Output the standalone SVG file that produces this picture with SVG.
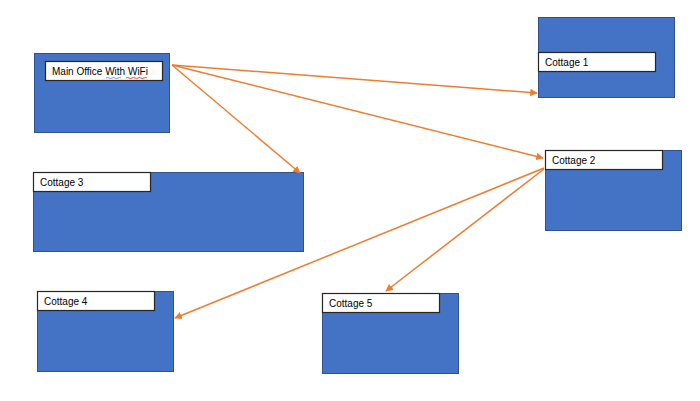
<svg xmlns="http://www.w3.org/2000/svg" width="700" height="401" viewBox="0 0 700 401">
  <style>
    .site { fill: #4472C4; stroke: #2F528F; stroke-width: 1; }
    .tag { fill: #FFFFFF; stroke: #262626; stroke-width: 1.2; }
    .txt { font-family: "Liberation Sans", "Open Sans", sans-serif; font-size: 10px; fill: #000000; }
    .link { stroke: #ED7D31; stroke-width: 1.5; fill: none; marker-end: url(#head); }
  </style>
  <defs>
    <marker id="head" viewBox="0 0 10 10" refX="9" refY="5" markerWidth="5" markerHeight="5" orient="auto" markerUnits="strokeWidth">
      <path d="M0,0 L10,5 L0,10 z" fill="#ED7D31"/>
    </marker>
  </defs>
  <rect width="700" height="401" fill="#FFFFFF"/>

  <g id="main-office">
    <rect class="site" x="34.5" y="53.5" width="135" height="79"/>
    <rect class="tag" x="45.5" y="61.5" width="117" height="19"/>
    <text class="txt" x="52" y="75">Main Office With WiFi</text>
    <!-- proofing squiggles under "With" and "WiFi" -->
    <path d="M106,78 q1.5,-1 3,0 t3,0 t3,0 t3,0 t3,0" stroke="#4472C4" stroke-width="0.7" fill="none"/>
    <path d="M126,78 q1.5,-1 3,0 t3,0 t3,0 t3,0 t3,0 t3,0 t3,0" stroke="#E00000" stroke-width="0.7" fill="none"/>
  </g>

  <g id="cottage-1">
    <rect class="site" x="538.5" y="17.5" width="136" height="80"/>
    <rect class="tag" x="538.5" y="52.5" width="117" height="19"/>
    <text class="txt" x="545" y="66">Cottage 1</text>
  </g>

  <g id="cottage-2">
    <rect class="site" x="545.5" y="150.5" width="136" height="80"/>
    <rect class="tag" x="545.5" y="150.5" width="117" height="19"/>
    <text class="txt" x="552" y="164">Cottage 2</text>
  </g>

  <g id="cottage-3">
    <rect class="site" x="33.5" y="172.5" width="270" height="79"/>
    <rect class="tag" x="33.5" y="172.5" width="117" height="19"/>
    <text class="txt" x="40" y="186">Cottage 3</text>
  </g>

  <g id="cottage-4">
    <rect class="site" x="37.5" y="291.5" width="136" height="80"/>
    <rect class="tag" x="37.5" y="291.5" width="117" height="19"/>
    <text class="txt" x="44" y="305">Cottage 4</text>
  </g>

  <g id="cottage-5">
    <rect class="site" x="322.5" y="293.5" width="136" height="80"/>
    <rect class="tag" x="322.5" y="293.5" width="117" height="19"/>
    <text class="txt" x="329" y="307">Cottage 5</text>
  </g>

  <g id="connectors">
    <line class="link" x1="172" y1="65" x2="537" y2="93"/>
    <line class="link" x1="172" y1="65" x2="543" y2="158"/>
    <line class="link" x1="172" y1="65" x2="300" y2="173"/>
    <line class="link" x1="544" y1="168" x2="175" y2="318"/>
    <line class="link" x1="544" y1="169" x2="386" y2="291"/>
  </g>
</svg>
